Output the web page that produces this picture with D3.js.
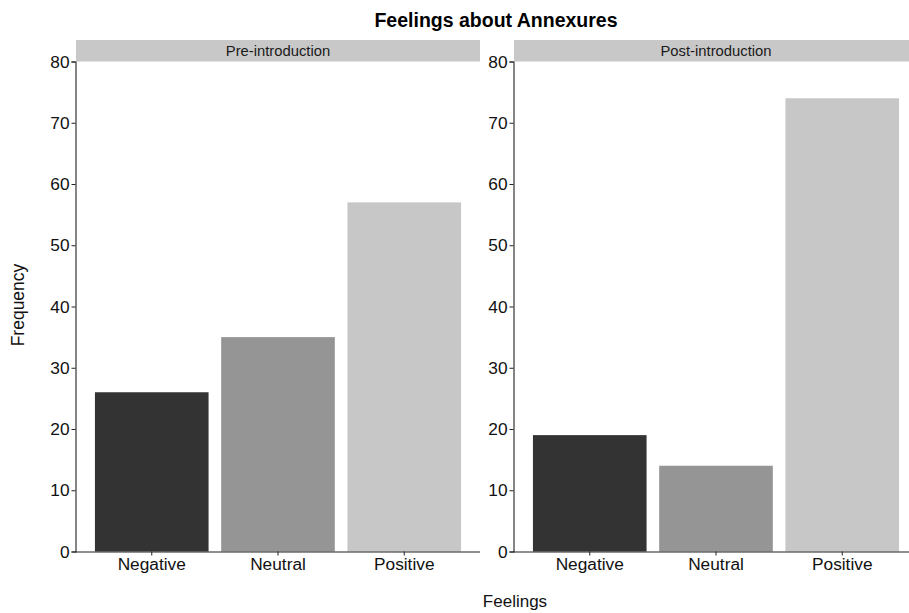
<!DOCTYPE html>
<html>
<head>
<meta charset="utf-8">
<script src="https://cdn.jsdelivr.net/npm/d3@7"></script>
<style>
  html, body { margin: 0; padding: 0; background: #fff; }
  svg { display: block; font-family: "Liberation Sans", Arial, Helvetica, sans-serif; }
</style>
</head>
<body>
<svg id="chart" width="909" height="613"></svg>
<script>
const categories = ["Negative", "Neutral", "Positive"];
const panels = ["Pre-introduction", "Post-introduction"];
const preValues = [26, 35, 57];
const postValues = [19, 14, 74];
const yTicks = [0, 10, 20, 30, 40, 50, 60, 70, 80];
const barColors = ["#333333", "#959595", "#c7c7c7"];

const seriesByPanel = [preValues, postValues];

const svg = d3.select("#chart");

const panelLeft = [76, 514];
const panelWidth = 404;
const panelTop = 61.5, panelBottom = 551.5;

const y = d3.scaleLinear().domain([0, 80]).range([panelBottom, panelTop]);
const color = d3.scaleOrdinal().domain(categories).range(barColors);

// Title
svg.append("text")
  .attr("x", 496).attr("y", 27)
  .attr("text-anchor", "middle")
  .attr("font-size", 19.5).attr("font-weight", "bold")
  .attr("fill", "#000")
  .text("Feelings about Annexures");

panels.forEach((name, i) => {
  const x0 = panelLeft[i];
  const x = d3.scaleBand().domain(categories)
    .range([x0, x0 + panelWidth])
    .paddingInner(0.1).paddingOuter(0.15);

  const g = svg.append("g");

  // strip
  g.append("rect")
    .attr("x", x0).attr("y", 40)
    .attr("width", panelWidth).attr("height", panelTop - 40)
    .attr("fill", "#c8c8c8");
  g.append("text")
    .attr("x", x0 + panelWidth / 2).attr("y", 56)
    .attr("text-anchor", "middle")
    .attr("font-size", 14.8).attr("fill", "#1a1a1a")
    .text(name);

  // bars
  const vals = seriesByPanel[i];
  g.selectAll("rect.bar")
    .data(categories.map((c, j) => ({ c, v: vals[j] })))
    .join("rect")
    .attr("class", "bar")
    .attr("x", d => x(d.c))
    .attr("width", x.bandwidth())
    .attr("y", d => y(d.v))
    .attr("height", d => y(0) - y(d.v))
    .attr("fill", d => color(d.c));

  // y axis
  const ya = g.append("g")
    .attr("transform", `translate(${x0 - 0.5},0)`)
    .call(d3.axisLeft(y).tickValues(yTicks).tickSize(4).tickPadding(2));
  ya.select(".domain").attr("stroke", "#222").attr("stroke-width", 1.1);
  ya.selectAll(".tick line").attr("stroke", "#222");
  ya.selectAll(".tick text").attr("font-size", 17.3).attr("fill", "#111")
    .attr("font-family", "Liberation Sans, Arial, sans-serif");

  // x axis
  const xa = g.append("g")
    .attr("transform", `translate(0,${panelBottom})`)
    .call(d3.axisBottom(x).tickSize(4).tickPadding(2).tickSizeOuter(0));
  xa.select(".domain").attr("stroke", "#222").attr("stroke-width", 1.1)
    .attr("d", `M${x0 - 1},0.5H${x0 + panelWidth}`);
  xa.selectAll(".tick line").attr("stroke", "#222");
  xa.selectAll(".tick text").attr("font-size", 17.3).attr("fill", "#111")
    .attr("font-family", "Liberation Sans, Arial, sans-serif");
});

// axis titles
svg.append("text")
  .attr("x", 515).attr("y", 607)
  .attr("text-anchor", "middle")
  .attr("font-size", 17).attr("fill", "#111")
  .text("Feelings");

svg.append("text")
  .attr("transform", "translate(24,305) rotate(-90)")
  .attr("text-anchor", "middle")
  .attr("font-size", 17.5).attr("fill", "#111")
  .text("Frequency");
</script>
</body>
</html>
